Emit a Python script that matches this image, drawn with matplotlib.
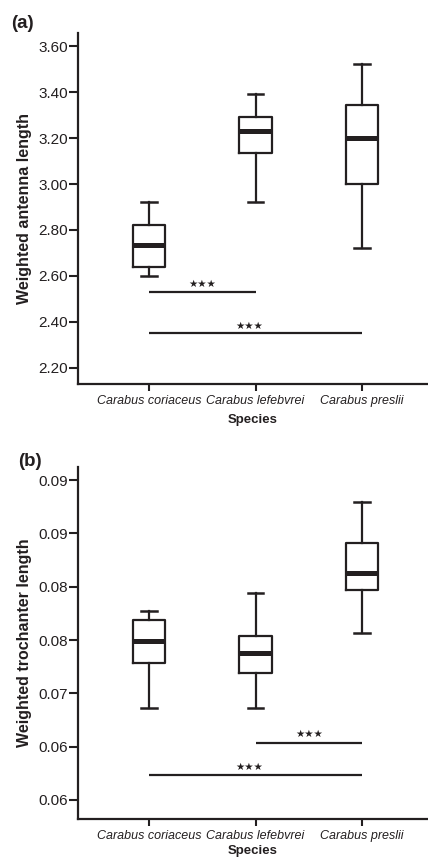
import matplotlib
matplotlib.use("Agg")
import matplotlib.pyplot as plt
from matplotlib.ticker import FixedLocator, FixedFormatter

plt.rcParams['font.family'] = ['Liberation Sans', 'DejaVu Sans']

species = ["Carabus coriaceus", "Carabus lefebvrei", "Carabus preslii"]

# Panel (a): weighted antenna length
ant_whislo = [2.60, 2.92, 2.723]
ant_q1 = [2.64, 3.136, 3.00]
ant_med = [2.735, 3.23, 3.20]
ant_q3 = [2.82, 3.291, 3.343]
ant_whishi = [2.92, 3.39, 3.52]
ant_ticks = [2.20, 2.40, 2.60, 2.80, 3.00, 3.20, 3.40, 3.60]
ant_ticklabels = ["2.20", "2.40", "2.60", "2.80", "3.00", "3.20", "3.40", "3.60"]
ant_sig = [(0, 1, 2.532, "★★★"), (0, 2, 2.352, "★★★")]

# Panel (b): weighted trochanter length
tro_whislo = [0.0683, 0.0684, 0.0768]
tro_q1 = [0.0734, 0.07225, 0.0816]
tro_med = [0.07585, 0.0745, 0.08357]
tro_q3 = [0.07825, 0.0765, 0.08695]
tro_whishi = [0.07926, 0.08125, 0.0915]
tro_ticks = [0.058, 0.064, 0.070, 0.076, 0.082, 0.088, 0.094]
tro_ticklabels = ["0.06", "0.06", "0.07", "0.08", "0.08", "0.09", "0.09"]
tro_sig = [(1, 2, 0.06445, "★★★"), (0, 2, 0.06081, "★★★")]

INK = "#231f20"
W, H = 428, 857
fig = plt.figure(figsize=(W / 100, H / 100), dpi=100)


def make_panel(rect, whislo, q1, med, q3, whishi, ylim, ticks, ticklabels,
               sig, ylabel, star_off, letter, letter_xy):
    ax = fig.add_axes(rect)
    stats = []
    for i in range(len(species)):
        stats.append(dict(whislo=whislo[i], q1=q1[i], med=med[i], q3=q3[i],
                          whishi=whishi[i], fliers=[], label=species[i]))
    ax.bxp(stats, positions=range(len(species)), widths=0.307,
           capwidths=0.147, showfliers=False, patch_artist=False,
           boxprops=dict(color=INK, linewidth=1.6),
           whiskerprops=dict(color=INK, linewidth=1.6),
           capprops=dict(color=INK, linewidth=1.8),
           medianprops=dict(color=INK, linewidth=3.6, solid_capstyle='butt'))
    for a, b, y, txt in sig:
        ax.plot([a, b], [y, y], color=INK, linewidth=1.6, solid_capstyle='butt')
        xm = (a + b) / 2 - (0.06 if b - a == 2 else 0.0)
        ax.text(xm, y + star_off, txt, ha='center', va='center',
                fontsize=7.5, family=['DejaVu Sans'], color=INK)
    ax.set_xlim(-0.667, 2.62)
    ax.set_ylim(*ylim)
    ax.yaxis.set_major_locator(FixedLocator(ticks))
    ax.yaxis.set_major_formatter(FixedFormatter(ticklabels))
    ax.set_xticks(range(len(species)))
    ax.set_xticklabels(species, fontstyle='italic', fontsize=9.0)
    for s in ['top', 'right']:
        ax.spines[s].set_visible(False)
    for s in ['left', 'bottom']:
        ax.spines[s].set_linewidth(1.6)
        ax.spines[s].set_color(INK)
    ax.tick_params(axis='y', length=6.5, width=1.5, pad=1, labelsize=11,
                   colors=INK)
    ax.tick_params(axis='x', length=5, width=1.5, pad=3, colors=INK)
    ax.set_ylabel(ylabel, fontsize=11.5, fontweight='bold', color=INK)
    ax.yaxis.set_label_coords(-0.152, 0.5)
    ax.yaxis.label.set_va('center')
    ax.set_xlabel("Species", fontsize=9.5, fontweight='bold', color=INK)
    fig.text(letter_xy[0] / W, 1 - letter_xy[1] / H, letter, fontsize=13.5,
             fontweight='bold', ha='center', va='center', color=INK)
    return ax


ax1 = make_panel([78 / W, 1 - 384 / H, 1 - 78 / W, (384 - 33) / H],
                 ant_whislo, ant_q1, ant_med, ant_q3, ant_whishi,
                 (2.13, 3.657), ant_ticks, ant_ticklabels, ant_sig,
                 "Weighted antenna length", 0.032, "(a)", (22, 24))
ax1.xaxis.set_label_coords(0.5, -0.103)
ax1.xaxis.label.set_va('center')

ax2 = make_panel([78 / W, 1 - 819 / H, 1 - 78 / W, (819 - 466.7) / H],
                 tro_whislo, tro_q1, tro_med, tro_q3, tro_whishi,
                 (0.05586, 0.0955), tro_ticks, tro_ticklabels, tro_sig,
                 "Weighted trochanter length", 0.00095, "(b)", (30, 461))
ax2.xaxis.set_label_coords(0.5, -0.09)
ax2.xaxis.label.set_va('center')

fig.savefig("out.png", dpi=100)
